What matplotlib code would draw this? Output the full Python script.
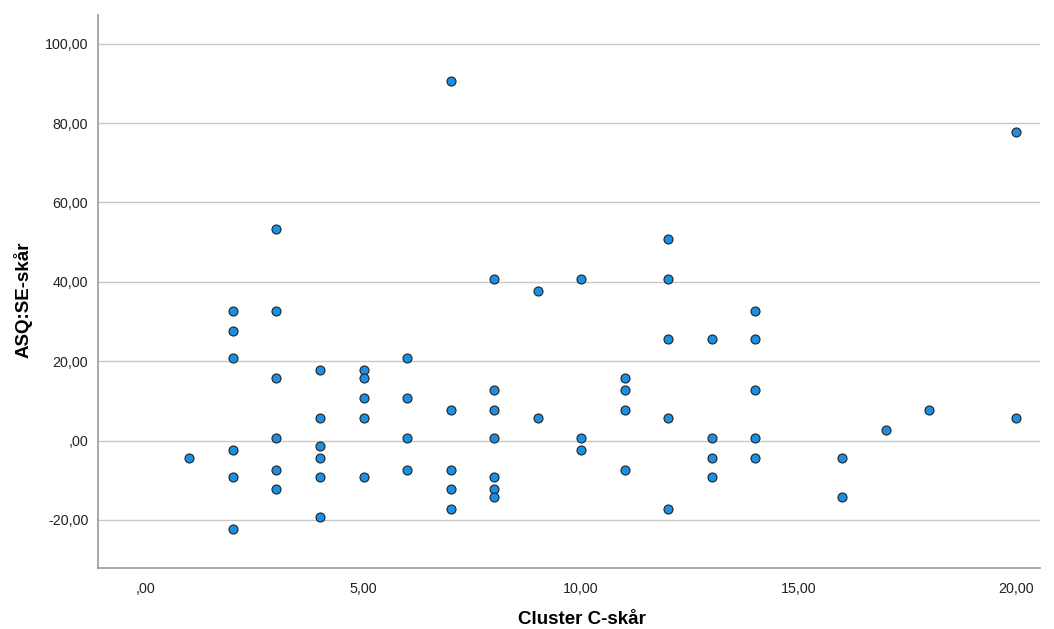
import matplotlib.pyplot as plt

plt.rcParams['font.family'] = ['Liberation Sans', 'DejaVu Sans']

# column values (Cluster C-skår)
cluster_c = [1,
             2, 2, 2, 2, 2, 2,
             3, 3, 3, 3, 3, 3,
             4, 4, 4, 4, 4, 4,
             5, 5, 5, 5, 5,
             6, 6, 6, 6,
             7, 7, 7, 7, 7,
             8, 8, 8, 8, 8, 8, 8,
             9, 9,
             10, 10, 10,
             11, 11, 11, 11,
             12, 12, 12, 12, 12,
             13, 13, 13, 13,
             14, 14, 14, 14, 14,
             16, 16,
             17,
             18,
             20, 20]

asq_se = [-4.3,
          32.7, 27.7, 20.7, -2.3, -9.3, -22.3,
          53.2, 32.7, 15.7, 0.7, -7.3, -12.3,
          17.7, 5.7, -1.3, -4.3, -9.3, -19.3,
          17.7, 15.7, 10.7, 5.7, -9.3,
          20.7, 10.7, 0.7, -7.3,
          90.7, 7.7, -7.3, -12.3, -17.3,
          40.7, 12.7, 7.7, 0.7, -9.3, -12.3, -14.3,
          37.7, 5.7,
          40.7, 0.7, -2.3,
          15.7, 12.7, 7.7, -7.3,
          50.7, 40.7, 25.7, 5.7, -17.3,
          25.7, 0.7, -4.3, -9.3,
          32.7, 25.7, 12.7, 0.7, -4.3,
          -4.3, -14.3,
          2.7,
          7.7,
          77.7, 5.7]

xtick_pos = [0, 5, 10, 15, 20]
xtick_labels = [',00', '5,00', '10,00', '15,00', '20,00']
ytick_pos = [-20, 0, 20, 40, 60, 80, 100]
ytick_labels = ['-20,00', ',00', '20,00', '40,00', '60,00', '80,00', '100,00']

fig = plt.figure(figsize=(10.54, 6.29), dpi=100)
ax = fig.add_axes([0.093, 0.097, 0.894, 0.879])

ax.scatter(cluster_c, asq_se, s=42, color='#1a8fe3', edgecolor='#222222',
           linewidth=0.8, zorder=3)

ax.set_xlim(-1.10, 20.55)
ax.set_ylim(-32.1, 107.2)
ax.set_xticks(xtick_pos)
ax.set_xticklabels(xtick_labels)
ax.set_yticks(ytick_pos)
ax.set_yticklabels(ytick_labels)
ax.tick_params(length=0, labelsize=10.3, colors='#222222')
ax.tick_params(axis='x', pad=10)
ax.tick_params(axis='y', pad=7)

ax.yaxis.grid(True, color='#c8c8c8', linewidth=1.0)
ax.set_axisbelow(True)

for side in ['top', 'right']:
    ax.spines[side].set_visible(False)
for side in ['left', 'bottom']:
    ax.spines[side].set_color('#999999')
    ax.spines[side].set_linewidth(1.2)

ax.set_xlabel('Cluster C-skår', fontsize=13.5, fontweight='bold')
ax.set_ylabel('ASQ:SE-skår', fontsize=13.5, fontweight='bold')
ax.xaxis.set_label_coords(0.514, -0.078)
ax.yaxis.set_label_coords(-0.070, 0.486)

fig.savefig('out.png', dpi=100)
